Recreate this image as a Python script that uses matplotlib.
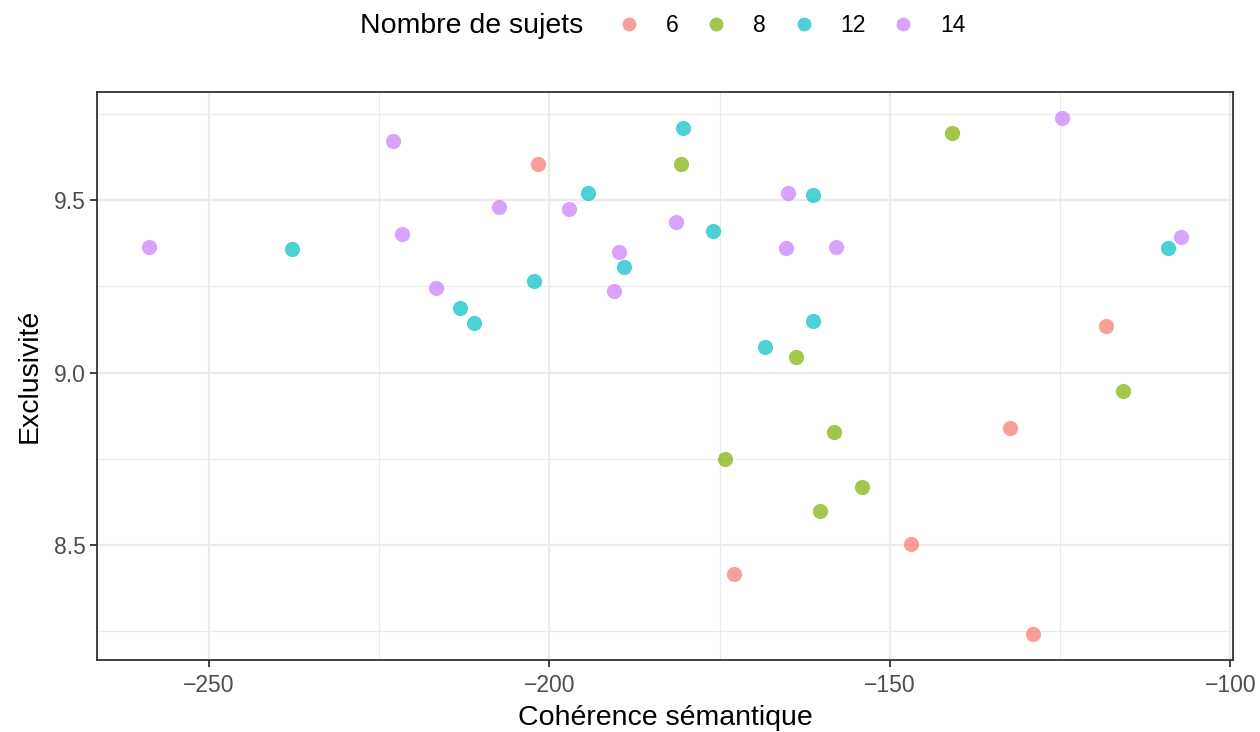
import numpy as np
import matplotlib.pyplot as plt
from matplotlib.lines import Line2D
from matplotlib.ticker import MultipleLocator

plt.rcParams['font.family'] = ['Liberation Sans', 'DejaVu Sans']

# Cohérence sémantique / Exclusivité par nombre de sujets
x6 = [-201.6, -172.9, -146.9, -132.3, -129.0, -118.2]
y6 = [9.607, 8.416, 8.503, 8.838, 8.240, 9.136]

x8 = [-140.9, -180.6, -163.8, -174.2, -158.2, -154.1, -160.3, -115.8]
y8 = [9.697, 9.607, 9.046, 8.749, 8.827, 8.668, 8.598, 8.945]

x12 = [-180.3, -194.3, -161.3, -237.8, -176.0, -189.0, -202.2, -213.1, -211.0, -161.3, -168.3, -109.1]
y12 = [9.711, 9.523, 9.517, 9.358, 9.410, 9.306, 9.266, 9.188, 9.144, 9.150, 9.075, 9.361]

x14 = [-258.8, -222.9, -221.6, -216.6, -207.3, -197.1, -189.7, -190.5, -181.4, -165.0, -165.3, -157.9, -124.8, -107.2]
y14 = [9.364, 9.673, 9.402, 9.246, 9.480, 9.474, 9.350, 9.237, 9.436, 9.523, 9.361, 9.364, 9.740, 9.393]

labels = ['6', '8', '12', '14']
colors = ['#F8766D', '#7CAE00', '#00BFC4', '#C77CFF']
series = [(x6, y6), (x8, y8), (x12, y12), (x14, y14)]

fig = plt.figure(figsize=(12.6, 7.32), dpi=100)
ax = fig.add_axes([0.077, 0.0984, 0.9016, 0.7759])

for (xs, ys), c in zip(series, colors):
    ax.scatter(xs, ys, s=120, color=c, alpha=0.7, linewidths=0, zorder=3)

allx = np.concatenate([x6, x8, x12, x14])
ally = np.concatenate([y6, y8, y12, y14])
dx = (allx.max() - allx.min()) * 0.05
dy = (ally.max() - ally.min()) * 0.05
ax.set_xlim(allx.min() - dx, allx.max() + dx)
ax.set_ylim(ally.min() - dy, ally.max() + dy)

ax.xaxis.set_major_locator(MultipleLocator(50))
ax.xaxis.set_minor_locator(MultipleLocator(25))
ax.yaxis.set_major_locator(MultipleLocator(0.5))
ax.yaxis.set_minor_locator(MultipleLocator(0.25))
ax.set_yticks([8.5, 9.0, 9.5])
ax.set_yticklabels(['8.5', '9.0', '9.5'])
ax.set_xticks([-250, -200, -150, -100])
ax.set_xticklabels(['\u2212250', '\u2212200', '\u2212150', '\u2212100'])

ax.grid(True, which='major', color='#EBEBEB', linewidth=1.6, zorder=0)
ax.grid(True, which='minor', color='#EBEBEB', linewidth=0.8, zorder=0)
ax.set_axisbelow(True)
for sp in ax.spines.values():
    sp.set_color('#333333')
    sp.set_linewidth(1.3)
ax.tick_params(which='major', length=5, width=1.3, color='#333333',
               labelsize=16.5, labelcolor='#4D4D4D', pad=3)
ax.tick_params(axis='x', which='major', pad=5)
ax.tick_params(which='minor', length=0)

ax.set_xlabel('Cohérence sémantique', fontsize=20.5, labelpad=6)
ax.set_ylabel('Exclusivité', fontsize=20.5, labelpad=8)

fig.text(0.2857, 0.965, 'Nombre de sujets', fontsize=20.5, va='center', ha='left')
handles = [Line2D([], [], marker='o', linestyle='', markersize=10, markeredgewidth=0,
                  color=c, alpha=0.7) for c in colors]
fig.legend(handles, labels, ncol=4, loc='center left', bbox_to_anchor=(0.472, 0.965),
           frameon=False, fontsize=16.5, handletextpad=1.0, columnspacing=1.05,
           handlelength=1.2)

fig.savefig('out.png', dpi=100)
